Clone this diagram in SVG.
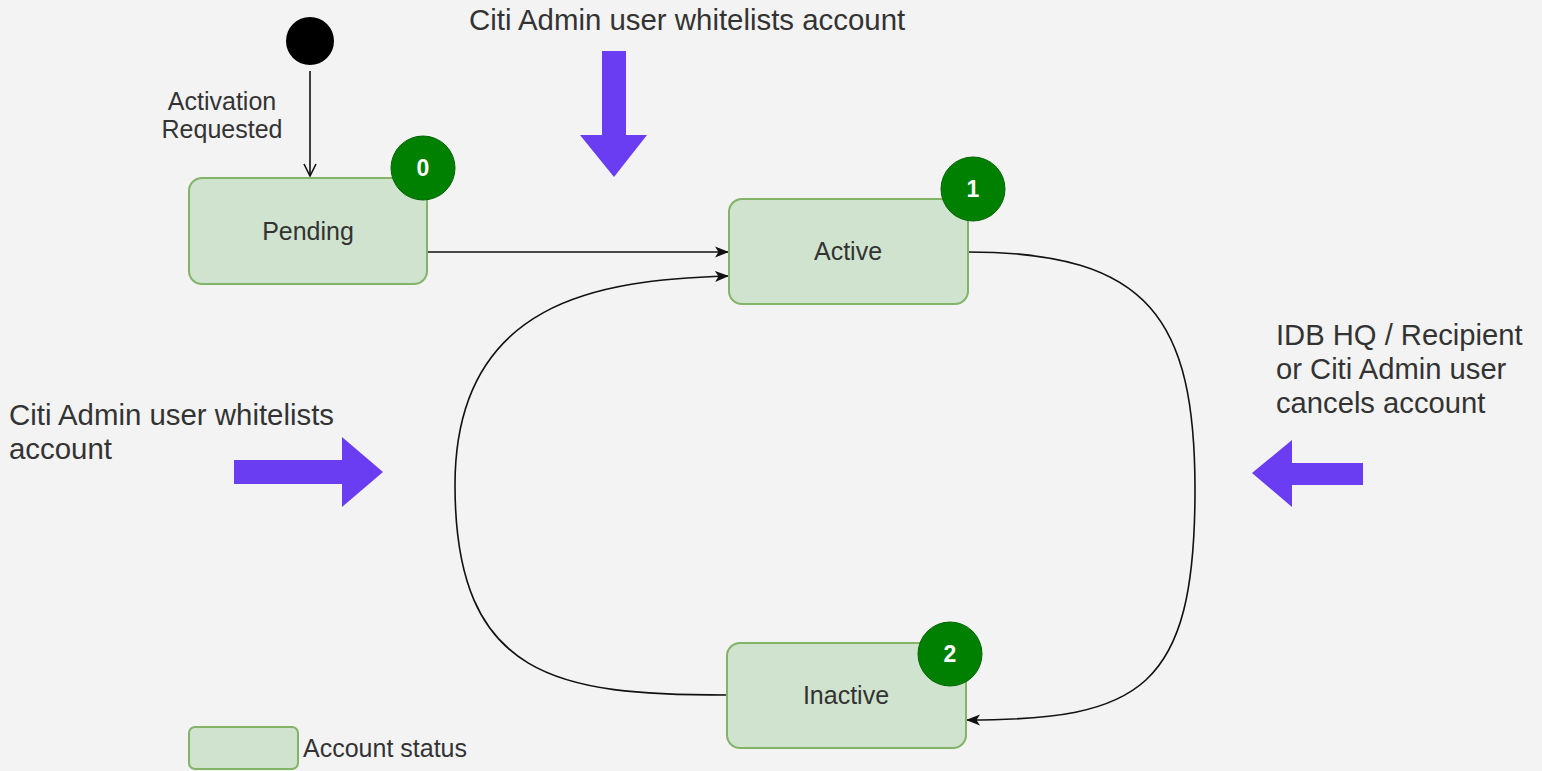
<svg xmlns="http://www.w3.org/2000/svg" width="1542" height="771" viewBox="0 0 1542 771">
<defs>
<style>
.bg{fill:#f3f3f3}
.box{fill:#d0e3cf;stroke:#82b366;stroke-width:2}
.badge{fill:#008000;stroke:#006600;stroke-width:1}
.num{font-family:"Liberation Sans",Arial,sans-serif;font-size:23px;font-weight:bold;fill:#ffffff;text-anchor:middle}
.lbl{font-family:"Liberation Sans",Arial,sans-serif;font-size:25px;fill:#333333;text-anchor:middle}
.note{font-family:"Liberation Sans",Arial,sans-serif;font-size:29.4px;fill:#333333}
.edge{fill:none;stroke:#111111;stroke-width:1.6}
.big{fill:#6a3cf2}
</style>
<marker id="fill" viewBox="0 0 14 14" refX="13" refY="7" markerWidth="14" markerHeight="14" markerUnits="userSpaceOnUse" orient="auto">
<path d="M0,1.5 L14,7 L0,12.5 L3.5,7 Z" fill="#111111"/>
</marker>
<marker id="open" viewBox="0 0 14 14" refX="13" refY="7" markerWidth="14" markerHeight="14" markerUnits="userSpaceOnUse" orient="auto">
<path d="M1,1 L13,7 L1,13" fill="none" stroke="#111111" stroke-width="1.6"/>
</marker>
</defs>
<rect class="bg" x="0" y="0" width="1542" height="771"/>

<g id="connectors">
<path class="edge" d="M310,71 L310,176" marker-end="url(#open)"/>
<path class="edge" d="M427,252 L728,252" marker-end="url(#fill)"/>
<path class="edge" d="M727,695 C560,695 455,680 455,485 C455,300 600,280 728,276" marker-end="url(#fill)"/>
<path class="edge" d="M968,252 C1150,252 1195,320 1195,490 C1195,690 1140,720 967,720" marker-end="url(#fill)"/>
</g>

<g id="start">
<circle cx="310" cy="41" r="24" fill="#000000"/>
</g>
<g id="label-activation">
<text class="lbl" x="222" y="110">Activation</text>
<text class="lbl" x="222" y="138">Requested</text>
</g>

<g id="node-pending">
<rect class="box" x="189" y="178" width="238" height="106" rx="13"/>
<text class="lbl" x="308" y="240">Pending</text>
<circle class="badge" cx="423" cy="168" r="32"/>
<text class="num" x="423" y="176">0</text>
</g>

<g id="node-active">
<rect class="box" x="729" y="199" width="239" height="105" rx="13"/>
<text class="lbl" x="848" y="260">Active</text>
<circle class="badge" cx="973" cy="189" r="32"/>
<text class="num" x="973" y="197">1</text>
</g>

<g id="node-inactive">
<rect class="box" x="727" y="643" width="239" height="105" rx="13"/>
<text class="lbl" x="846" y="704">Inactive</text>
<circle class="badge" cx="950" cy="654" r="32"/>
<text class="num" x="950" y="662">2</text>
</g>

<g id="note-top">
<text class="note" x="469" y="30">Citi Admin user whitelists account</text>
<polygon class="big" points="602,51 626,51 626,135 647,135 614,177 580,135 602,135"/>
</g>

<g id="note-left">
<text class="note" x="9" y="425">Citi Admin user whitelists</text>
<text class="note" x="9" y="459">account</text>
<polygon class="big" points="234,460 342,460 342,437 383,472 342,507 342,484 234,484"/>
</g>

<g id="note-right">
<text class="note" x="1276" y="345" style="font-size:29.2px">IDB HQ / Recipient</text>
<text class="note" x="1276" y="379" style="font-size:29.2px">or Citi Admin user</text>
<text class="note" x="1276" y="413" style="font-size:29.2px">cancels account</text>
<polygon class="big" points="1363,463 1292,463 1292,440 1252,473 1292,507 1292,485 1363,485"/>
</g>

<g id="legend">
<rect class="box" x="189" y="727" width="109" height="42" rx="6"/>
<text class="lbl" x="303" y="757" style="text-anchor:start">Account status</text>
</g>
</svg>
